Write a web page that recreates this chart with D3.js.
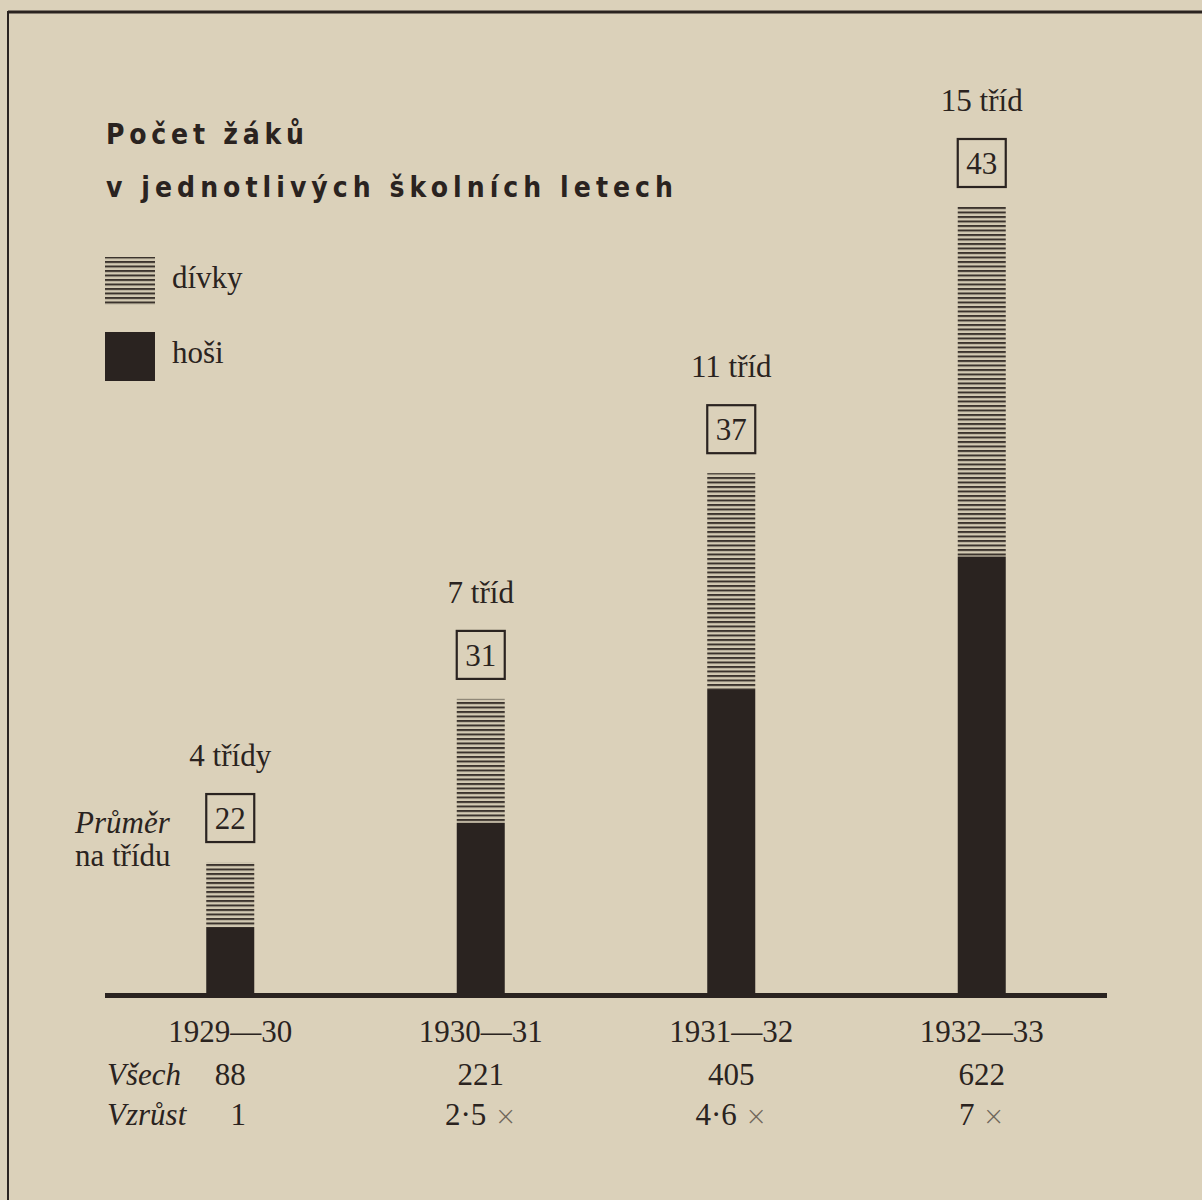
<!DOCTYPE html>
<html>
<head>
<meta charset="utf-8">
<script src="https://cdn.jsdelivr.net/npm/d3@7"></script>
<style>
  html, body { margin: 0; padding: 0; background: #dbd1ba; }
  svg { display: block; }
</style>
</head>
<body>
<div id="chart"></div>
<script>
const years = ['1929—30', '1930—31', '1931—32', '1932—33']
const boys = [35, 120, 229, 337]
const girls = [53, 101, 176, 285]
const totals = [88, 221, 405, 622]
const classLabels = ['4 třídy', '7 tříd', '11 tříd', '15 tříd']
const perClass = [22, 31, 37, 43]
const growth = ['1', '2·5', '4·6', '7']

const width = 1202
const height = 1200
const ink = '#2a2320'
const serif = '"Liberation Serif", "Times New Roman", serif'
const sans = '"DejaVu Sans Condensed", "Liberation Sans Narrow", "Liberation Sans", sans-serif'
const baseY = 993

const svg = d3.select('#chart')
  .append('svg')
  .attr('width', width)
  .attr('height', height)

svg.append('rect')
  .attr('width', width)
  .attr('height', height)
  .attr('fill', '#dbd1ba')

const defs = svg.append('defs')
const hatch = defs.append('pattern')
  .attr('id', 'hatch')
  .attr('patternUnits', 'userSpaceOnUse')
  .attr('width', 8)
  .attr('height', 4.5)
hatch.append('rect')
  .attr('width', 8)
  .attr('height', 4.5)
  .attr('fill', '#d3cab3')
hatch.append('rect')
  .attr('y', 0)
  .attr('width', 8)
  .attr('height', 2)
  .attr('fill', '#3b332d')

// frame
svg.append('line')
  .attr('x1', 8).attr('x2', 1202)
  .attr('y1', 12).attr('y2', 12)
  .attr('stroke', ink).attr('stroke-width', 3)
svg.append('line')
  .attr('x1', 8).attr('x2', 8)
  .attr('y1', 11).attr('y2', 1200)
  .attr('stroke', ink).attr('stroke-width', 2)

const x = d3.scalePoint()
  .domain(years)
  .range([105, 1107])
  .padding(0.5)

const y = d3.scaleLinear()
  .domain([0, 622])
  .range([970, 207])

const barW = 48

const data = years.map(function (d, i) {
  return { year: d, boys: boys[i], girls: girls[i], total: totals[i], label: classLabels[i], avg: perClass[i], growth: growth[i] }
})

const bars = svg.append('g')
  .selectAll('g')
  .data(data)
  .join('g')

bars.append('rect')
  .attr('x', function (d) { return x(d.year) - barW / 2 })
  .attr('y', function (d) { return y(d.boys + d.girls) })
  .attr('width', barW)
  .attr('height', function (d) { return y(d.boys) - y(d.boys + d.girls) })
  .attr('fill', 'url(#hatch)')

bars.append('rect')
  .attr('x', function (d) { return x(d.year) - barW / 2 })
  .attr('y', function (d) { return y(d.boys) })
  .attr('width', barW)
  .attr('height', function (d) { return baseY - y(d.boys) })
  .attr('fill', ink)

bars.append('rect')
  .attr('x', function (d) { return x(d.year) - barW / 2 })
  .attr('y', function (d) { return y(d.total) - 20 - 48 })
  .attr('width', barW)
  .attr('height', 48)
  .attr('fill', 'none')
  .attr('stroke', ink)
  .attr('stroke-width', 2.2)

bars.append('text')
  .attr('x', function (d) { return x(d.year) })
  .attr('y', function (d) { return y(d.total) - 20 - 13 })
  .attr('text-anchor', 'middle')
  .attr('font-family', serif)
  .attr('font-size', 31)
  .attr('fill', ink)
  .text(function (d) { return d.avg })

bars.append('text')
  .attr('x', function (d) { return x(d.year) })
  .attr('y', function (d) { return y(d.total) - 20 - 48 - 28 })
  .attr('text-anchor', 'middle')
  .attr('font-family', serif)
  .attr('font-size', 31)
  .attr('fill', ink)
  .text(function (d) { return d.label })

// baseline
svg.append('line')
  .attr('x1', 105).attr('x2', 1107)
  .attr('y1', baseY + 2.5).attr('y2', baseY + 2.5)
  .attr('stroke', ink).attr('stroke-width', 5)

const rows = svg.append('g')
  .attr('font-family', serif)
  .attr('font-size', 31)
  .attr('fill', ink)

rows.selectAll('.yr')
  .data(data)
  .join('text')
  .attr('class', 'yr')
  .attr('x', function (d) { return x(d.year) })
  .attr('y', 1042)
  .attr('text-anchor', 'middle')
  .text(function (d) { return d.year })

rows.selectAll('.tot')
  .data(data)
  .join('text')
  .attr('class', 'tot')
  .attr('x', function (d) { return x(d.year) })
  .attr('y', 1085)
  .attr('text-anchor', 'middle')
  .text(function (d) { return d.total })

const gr = rows.selectAll('.gr')
  .data(data)
  .join('text')
  .attr('class', 'gr')
  .attr('x', function (d, i) { return x(d.year) + (i === 0 ? 8 : 0) })
  .attr('y', 1125)
  .attr('text-anchor', 'middle')
gr.append('tspan').text(function (d) { return d.growth })
gr.filter(function (d, i) { return i > 0 })
  .append('tspan')
  .attr('fill', '#6e6559')
  .attr('font-family', '"DejaVu Sans", sans-serif')
  .attr('font-weight', 200)
  .attr('font-size', 26)
  .text(' ×')

rows.append('text')
  .attr('x', 107).attr('y', 1085)
  .attr('font-style', 'italic')
  .text('Všech')
rows.append('text')
  .attr('x', 107).attr('y', 1125)
  .attr('font-style', 'italic')
  .text('Vzrůst')

rows.append('text')
  .attr('x', 75).attr('y', 833)
  .attr('font-style', 'italic')
  .text('Průměr')
rows.append('text')
  .attr('x', 75).attr('y', 866)
  .text('na třídu')

// title
svg.append('text')
  .attr('x', 106).attr('y', 144)
  .attr('font-family', sans)
  .attr('font-weight', 'bold')
  .attr('font-size', 28)
  .attr('fill', ink)
  .attr('textLength', 198)
  .attr('lengthAdjust', 'spacing')
  .text('Počet žáků')
svg.append('text')
  .attr('x', 106).attr('y', 197)
  .attr('font-family', sans)
  .attr('font-weight', 'bold')
  .attr('font-size', 28)
  .attr('fill', ink)
  .attr('textLength', 567)
  .attr('lengthAdjust', 'spacing')
  .text('v jednotlivých školních letech')

// legend
const legend = svg.append('g')
legend.append('rect')
  .attr('x', 105).attr('y', 257)
  .attr('width', 50).attr('height', 48)
  .attr('fill', 'url(#hatch)')
legend.append('rect')
  .attr('x', 105).attr('y', 332)
  .attr('width', 50).attr('height', 49)
  .attr('fill', ink)
legend.append('text')
  .attr('x', 172).attr('y', 288)
  .attr('font-family', serif).attr('font-size', 31).attr('fill', ink)
  .text('dívky')
legend.append('text')
  .attr('x', 172).attr('y', 363)
  .attr('font-family', serif).attr('font-size', 31).attr('fill', ink)
  .text('hoši')
</script>
</body>
</html>
